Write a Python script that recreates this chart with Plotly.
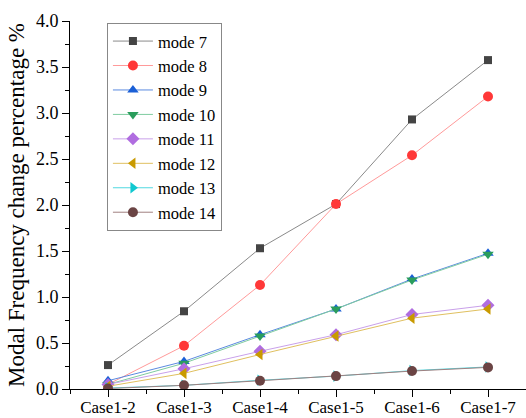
import plotly.graph_objects as go

cases = ["Case1-2", "Case1-3", "Case1-4", "Case1-5", "Case1-6", "Case1-7"]

mode_7 = [0.26, 0.845, 1.53, 2.01, 2.93, 3.575]
mode_8 = [0.05, 0.47, 1.13, 2.01, 2.54, 3.18]
mode_9 = [0.09, 0.30, 0.59, 0.87, 1.195, 1.475]
mode_10 = [0.05, 0.28, 0.575, 0.87, 1.185, 1.465]
mode_11 = [0.05, 0.22, 0.41, 0.59, 0.81, 0.91]
mode_12 = [0.03, 0.17, 0.375, 0.575, 0.77, 0.87]
mode_13 = [0.01, 0.04, 0.095, 0.14, 0.20, 0.24]
mode_14 = [0.005, 0.04, 0.09, 0.14, 0.195, 0.235]

series = [
    ("mode 7", mode_7, "square", "#444444", "#8a8a8a", 8),
    ("mode 8", mode_8, "circle", "#ff3838", "#ff9a9a", 10),
    ("mode 9", mode_9, "triangle-up", "#1a5fd6", "#5b8ae0", 10),
    ("mode 10", mode_10, "triangle-down", "#2a9d5c", "#7fcca0", 10),
    ("mode 11", mode_11, "diamond", "#b06de0", "#c9a0ea", 10),
    ("mode 12", mode_12, "triangle-left", "#c99a00", "#e0c060", 10),
    ("mode 13", mode_13, "triangle-right", "#10c8d0", "#50d8e0", 10),
    ("mode 14", mode_14, "circle", "#6b4444", "#a08080", 10),
]

xpos = list(range(len(cases)))

fig = go.Figure()
for name, vals, sym, mcol, lcol, msize in series:
    fig.add_trace(go.Scatter(
        x=xpos, y=vals, name=name, mode="lines+markers",
        line=dict(color=lcol, width=1),
        marker=dict(symbol=sym, color=mcol, size=msize, line=dict(width=0)),
    ))

font_family = "Liberation Serif"

fig.update_layout(
    width=526, height=418,
    margin=dict(l=70, r=0, t=21, b=29),
    paper_bgcolor="white", plot_bgcolor="white",
    font=dict(family=font_family, color="black", size=18),
    showlegend=True,
    legend=dict(
        x=0.081, y=0.995, xanchor="left", yanchor="top",
        bordercolor="#888888", borderwidth=1, bgcolor="white",
        font=dict(family=font_family, size=16.5),
        tracegroupgap=0, itemwidth=40,
    ),
    xaxis=dict(
        range=[-0.5, 5.5], tickmode="array", tickvals=xpos, ticktext=cases,
        automargin=False, ticklabelstandoff=-4,
        showgrid=False, zeroline=False, showline=True, linecolor="black",
        linewidth=1, ticks="outside", ticklen=7, tickcolor="black",
        minor=dict(dtick=0.5, tick0=0, ticks="outside", ticklen=4,
                   tickcolor="black", showgrid=False),
        tickfont=dict(size=17),
    ),
    yaxis=dict(
        range=[0, 4], dtick=0.5, tickformat=".1f",
        automargin=False,
        showgrid=False, zeroline=False, showline=True, linecolor="black",
        linewidth=1, ticks="outside", ticklen=7, tickcolor="black",
        minor=dict(dtick=0.25, ticks="outside", ticklen=4,
                   tickcolor="black", showgrid=False),
        tickfont=dict(size=18),
        title=dict(text="Modal Frequency change percentage %",
                   font=dict(size=23), standoff=4),
    ),
)

fig.write_html("out.html")
